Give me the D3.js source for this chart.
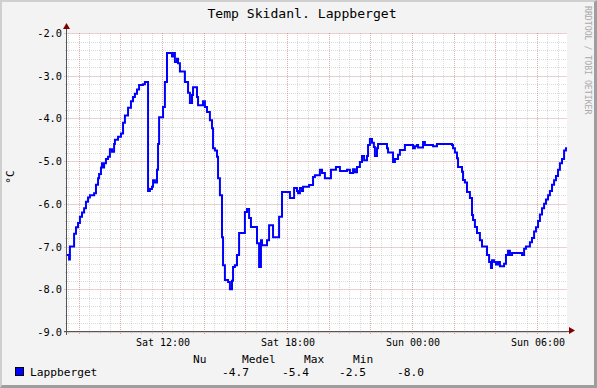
<!DOCTYPE html>
<html>
<head>
<meta charset="utf-8">
<title>Temp Skidanl. Lappberget</title>
<script src="https://cdn.jsdelivr.net/npm/d3@7"></script>
<style>
    body {
        margin: 0;
        padding: 0;
        background: #f3f3f3;
    }
    svg {
        display: block;
        font-family: "DejaVu Sans Mono", monospace;
    }
</style>
</head>
<body>
<div id="chart"></div>
<script>
// hours since Sat 00:00, and temperature (degC) from that moment on
var hours = [
    7.44, 7.54, 7.58, 7.78, 7.87, 7.97, 8.06, 8.16, 8.26, 8.35, 8.45, 8.54, 8.74, 8.83, 8.93, 8.98,
    9.07, 9.12, 9.17, 9.22, 9.31, 9.41, 9.50, 9.60, 9.70, 9.74, 9.89, 10.03, 10.13, 10.22, 10.37, 10.51,
    10.61, 10.70, 10.80, 10.90, 11.09, 11.18, 11.33, 11.42, 11.52, 11.57, 11.66, 11.76, 11.81, 11.86,
    12.05, 12.14, 12.24, 12.48, 12.53, 12.62, 12.72, 12.77, 12.86, 13.10, 13.25, 13.34, 13.44, 13.49,
    13.68, 13.73, 13.97, 14.06, 14.16, 14.30, 14.40, 14.45, 14.54, 14.64, 14.69, 14.78, 14.88, 14.93,
    15.02, 15.17, 15.26, 15.36, 15.41, 15.50, 15.60, 15.70, 15.98, 16.08, 16.18, 16.27, 16.56, 16.66,
    16.75, 16.80, 17.04, 17.14, 17.33, 17.62, 17.76, 18.14, 18.34, 18.48, 18.53, 18.62, 18.72, 18.77,
    19.06, 19.25, 19.34, 19.58, 19.68, 19.82, 20.11, 20.35, 20.54, 20.88, 21.02, 21.17, 21.26, 21.36,
    21.50, 21.60, 21.70, 21.84, 21.89, 21.98, 22.08, 22.17, 22.22, 22.32, 22.37, 22.80, 22.85, 23.09,
    23.18, 23.33, 23.42, 23.66, 24.05, 24.14, 24.24, 24.29, 24.53, 24.62, 25.01, 25.20, 25.92, 25.97,
    26.06, 26.16, 26.21, 26.40, 26.45, 26.54, 26.64, 26.78, 26.88, 26.93, 27.02, 27.12, 27.26, 27.36,
    27.60, 27.70, 27.79, 27.84, 27.94, 28.03, 28.13, 28.22, 28.42, 28.51, 28.61, 28.70, 28.80, 29.28,
    29.38, 29.47, 29.66, 29.76, 29.86, 29.95, 30.05, 30.14, 30.24, 30.34, 30.43, 30.53, 30.62, 30.72,
    30.82, 30.91, 31.01, 31.10, 31.20, 31.30, 31.39
];
var temps = [
    -7.2, -7.3, -7.0, -6.7, -6.55, -6.45, -6.3, -6.2, -6.1, -5.95, -5.85, -5.8, -5.75, -5.55, -5.4, -5.3,
    -5.15, -5.05, -5.15, -5.05, -4.95, -4.9, -4.72, -4.78, -4.6, -4.5, -4.43, -4.35, -4.1, -3.93, -3.75, -3.6,
    -3.5, -3.42, -3.32, -3.22, -3.2, -3.15, -5.7, -5.65, -5.6, -5.45, -5.5, -5.2, -4.6, -3.97,
    -3.73, -3.15, -2.47, -2.55, -2.47, -2.68, -2.6, -2.71, -2.9, -3.15, -3.4, -3.64, -3.45, -3.27,
    -3.5, -3.69, -3.6, -3.73, -3.85, -4.04, -4.23, -4.7, -4.75, -4.9, -5.4, -5.8, -6.78, -7.44,
    -7.78, -7.83, -8.0, -7.8, -7.48, -7.44, -7.2, -6.68, -6.19, -6.12, -6.33, -6.54, -6.92, -7.48,
    -6.85, -6.97, -6.85, -6.5, -6.78, -6.3, -5.72, -5.86, -5.63, -5.7, -5.75, -5.63, -5.7, -5.6,
    -5.56, -5.37, -5.33, -5.2, -5.28, -5.4, -5.2, -5.14, -5.23, -5.2, -5.28, -5.19, -5.26, -5.14,
    -5.02, -4.88, -4.98, -4.88, -4.62, -4.48, -4.57, -4.67, -4.88, -4.7, -4.6, -4.7, -4.8, -5.02,
    -4.95, -4.85, -4.74, -4.62, -4.7, -4.65, -4.62, -4.68, -4.55, -4.62, -4.65, -4.6, -4.62, -4.7,
    -4.8, -4.93, -5.14, -5.25, -5.44, -5.5, -5.72, -5.86, -6.26, -6.38, -6.54, -6.68, -6.85, -7.0,
    -7.2, -7.36, -7.5, -7.32, -7.36, -7.42, -7.36, -7.46, -7.4, -7.2, -7.1, -7.2, -7.15, -7.2,
    -7.05, -7.0, -6.9, -6.8, -6.65, -6.55, -6.4, -6.25, -6.1, -6.0, -5.9, -5.8, -5.7, -5.55,
    -5.45, -5.35, -5.2, -5.05, -4.95, -4.75, -4.7
];
var timeRange = [7.44, 31.44];
var yDomain = [-9, -2];
var statNames = ["Nu", "Medel", "Max", "Min"];
var statValues = [-4.7, -5.4, -2.5, -8.0];
var seriesName = "Lappberget";

var WIDTH = 597, HEIGHT = 388;
var PLOT = {left: 67, right: 567, top: 33, bottom: 332};

var day0 = new Date(2013, 0, 5); // a Saturday
function toDate(h) {
    return new Date(day0.getTime() + h * 3600000);
}

var data = hours.map(function (h, i) { return {t: toDate(h), v: temps[i]}; });
data.push({t: toDate(timeRange[1]), v: temps[temps.length - 1]});

var svg = d3.select("#chart").append("svg")
    .attr("width", WIDTH)
    .attr("height", HEIGHT);

// background + shaded frame
svg.append("rect").attr("width", WIDTH).attr("height", HEIGHT).attr("fill", "#f3f3f3");
svg.append("path").attr("fill", "#cfcfcf")
    .attr("d", "M0,0H" + WIDTH + "L" + (WIDTH - 2) + ",2H2V" + (HEIGHT - 2) + "L0," + HEIGHT + "Z");
svg.append("path").attr("fill", "#9e9e9e")
    .attr("d", "M" + WIDTH + ",0V" + HEIGHT + "H0L2," + (HEIGHT - 3) + "H" + (WIDTH - 3) + "V2Z");

var xScale = d3.scaleTime()
    .domain(timeRange.map(toDate))
    .range([PLOT.left, PLOT.right]);
var yScale = d3.scaleLinear()
    .domain(yDomain)
    .range([PLOT.bottom, PLOT.top]);

svg.append("rect")
    .attr("x", PLOT.left).attr("y", PLOT.top)
    .attr("width", PLOT.right - PLOT.left).attr("height", PLOT.bottom - PLOT.top)
    .attr("fill", "#ffffff");

function crisp(v) { return Math.round(v) + 0.5; }

var grid = svg.append("g").attr("shape-rendering", "crispEdges");
var minorColor = "rgba(143,143,143,0.32)";
var majorColor = "rgba(222,80,80,0.32)";

// minor grid
var minorX = xScale.ticks(d3.timeMinute.every(30));
var minorY = d3.range(0, 36).map(function (i) { return yDomain[0] + i * 0.2; });
grid.selectAll(".vminor").data(minorX).enter().append("line")
    .attr("x1", function (d) { return crisp(xScale(d)); })
    .attr("x2", function (d) { return crisp(xScale(d)); })
    .attr("y1", PLOT.top).attr("y2", PLOT.bottom + 2)
    .attr("stroke", minorColor)
    .attr("stroke-dasharray", "1,1");
grid.selectAll(".hminor").data(minorY).enter().append("line")
    .attr("y1", function (d) { return crisp(yScale(d)); })
    .attr("y2", function (d) { return crisp(yScale(d)); })
    .attr("x1", PLOT.left - 2).attr("x2", PLOT.right)
    .attr("stroke", minorColor)
    .attr("stroke-dasharray", "1,1");

// major grid
var majorX = xScale.ticks(d3.timeHour.every(2));
var majorY = d3.range(yDomain[0], yDomain[1] + 1, 1);
grid.selectAll(".vmajor").data(majorX).enter().append("line")
    .attr("x1", function (d) { return crisp(xScale(d)); })
    .attr("x2", function (d) { return crisp(xScale(d)); })
    .attr("y1", PLOT.top).attr("y2", PLOT.bottom + 3)
    .attr("stroke", majorColor)
    .attr("stroke-dasharray", "1,1");
grid.selectAll(".hmajor").data(majorY).enter().append("line")
    .attr("y1", function (d) { return crisp(yScale(d)); })
    .attr("y2", function (d) { return crisp(yScale(d)); })
    .attr("x1", PLOT.left - 3).attr("x2", PLOT.right)
    .attr("stroke", majorColor)
    .attr("stroke-dasharray", "1,1");

// axes
var axisColor = "#555555";
grid.append("line")
    .attr("x1", crisp(PLOT.left - 1)).attr("x2", crisp(PLOT.left - 1))
    .attr("y1", PLOT.bottom + 3).attr("y2", PLOT.top - 6)
    .attr("stroke", axisColor);
grid.append("line")
    .attr("x1", PLOT.left - 3).attr("x2", PLOT.right + 4)
    .attr("y1", crisp(PLOT.bottom - 1)).attr("y2", crisp(PLOT.bottom - 1))
    .attr("stroke", axisColor);
svg.append("path").attr("fill", "#7f0000")
    .attr("d", "M" + (PLOT.left - 4) + "," + (PLOT.top - 4) + "L" + (PLOT.left + 3) + "," + (PLOT.top - 4) +
        "L" + (PLOT.left - 0.5) + "," + (PLOT.top - 10) + "Z");
svg.append("path").attr("fill", "#7f0000")
    .attr("d", "M" + (PLOT.right + 2) + "," + (PLOT.bottom - 5) + "L" + (PLOT.right + 2) + "," + (PLOT.bottom + 2) +
        "L" + (PLOT.right + 8) + "," + (PLOT.bottom - 1.5) + "Z");

// axis labels
svg.append("g").selectAll("text").data(majorY).enter().append("text")
    .attr("x", PLOT.left - 5)
    .attr("y", function (d) { return yScale(d) + 4; })
    .attr("text-anchor", "end")
    .attr("font-size", "10.3px")
    .attr("fill", "#000")
    .text(function (d) { return d.toFixed(1); });

var labelX = xScale.ticks(d3.timeHour.every(6));
var fmt = d3.timeFormat("%a %H:%M");
svg.append("g").selectAll("text").data(labelX).enter().append("text")
    .attr("x", function (d) { return xScale(d) + 1; })
    .attr("y", PLOT.bottom + 14)
    .attr("text-anchor", "middle")
    .attr("font-size", "10px")
    .attr("fill", "#000")
    .text(function (d) { return fmt(d); });

// series
svg.append("clipPath").attr("id", "clip").append("rect")
    .attr("x", PLOT.left).attr("y", PLOT.top - 2)
    .attr("width", PLOT.right - PLOT.left).attr("height", PLOT.bottom - PLOT.top + 2);
var line = d3.line()
    .x(function (d) { return xScale(d.t); })
    .y(function (d) { return yScale(d.v); })
    .curve(d3.curveStepAfter);
svg.append("path")
    .datum(data)
    .attr("clip-path", "url(#clip)")
    .attr("fill", "none")
    .attr("stroke", "#0000ff")
    .attr("stroke-width", 2)
    .attr("d", line);

// title & labels
svg.append("text")
    .attr("x", 302).attr("y", 18)
    .attr("text-anchor", "middle")
    .attr("font-size", "13.1px")
    .text("Temp Skidanl. Lappberget");
svg.append("text")
    .attr("transform", "translate(14,177) rotate(-90)")
    .attr("text-anchor", "middle")
    .attr("font-size", "11px")
    .text("°C");
svg.append("text")
    .attr("transform", "translate(585,6) rotate(90)")
    .attr("font-size", "8.2px")
    .attr("fill", "#aaaaaa")
    .text("RRDTOOL / TOBI OETIKER");

// legend
var legendFont = "11.2px";
svg.append("rect")
    .attr("x", 15.5).attr("y", 367.5).attr("width", 8).attr("height", 8)
    .attr("fill", "#0000ff").attr("stroke", "#000");
svg.append("text")
    .attr("x", 30).attr("y", 376)
    .attr("font-size", legendFont)
    .text(seriesName);
var headX = [193, 242, 304, 353];
var valX = [222, 282, 339, 397];
svg.append("g").selectAll("text").data(statNames).enter().append("text")
    .attr("x", function (d, i) { return headX[i]; })
    .attr("y", 363)
    .attr("font-size", legendFont)
    .text(function (d) { return d; });
svg.append("g").selectAll("text").data(statValues).enter().append("text")
    .attr("x", function (d, i) { return valX[i]; })
    .attr("y", 376)
    .attr("font-size", legendFont)
    .text(function (d) { return d.toFixed(1); });
</script>
</body>
</html>
